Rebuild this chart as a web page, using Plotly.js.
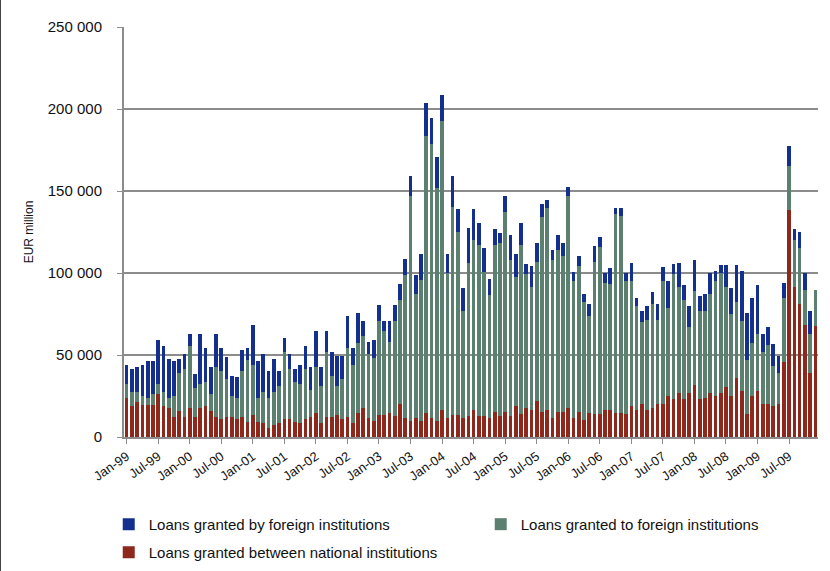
<!DOCTYPE html>
<html>
<head>
<meta charset="utf-8">
<script src="https://cdn.plot.ly/plotly-3.0.1.min.js"></script>
<style>
  html, body { margin: 0; padding: 0; background: #fff; }
  #chart { width: 830px; height: 571px; }
  #frame { position: absolute; left: 0; top: 0; width: 1px; height: 571px; background: #444; }
</style>
</head>
<body>
<div id="chart"></div>
<div id="frame"></div>
<script>
// Month categories Jan-99 .. Dec-09
const monthNames = ['Jan','Feb','Mar','Apr','May','Jun','Jul','Aug','Sep','Oct','Nov','Dec'];
const years = ['99','00','01','02','03','04','05','06','07','08','09'];
const categories = [];
years.forEach(y => monthNames.forEach(m => categories.push(m + '-' + y)));

// Tick labels every six months
const tickLabels = ['Jan-99','Jul-99','Jan-00','Jul-00','Jan-01','Jul-01','Jan-02','Jul-02',
  'Jan-03','Jul-03','Jan-04','Jul-04','Jan-05','Jul-05','Jan-06','Jul-06','Jan-07','Jul-07',
  'Jan-08','Jul-08','Jan-09','Jul-09'];

// EUR million
const loansNational = [
  23800,18700,21300,19700,19700,19700,26400,18700,17500,12400,16100,12400,
  17500,12400,17500,18700,16100,12400,11200,12400,12400,11200,12400,9400,
  13500,9400,8400,5700,7100,8400,11000,11000,9400,8400,11000,12200,
  14900,8400,12400,12400,13500,11000,12400,8400,14700,17600,11300,9700,
  13700,13700,14700,12700,20200,11300,9700,11300,9700,14700,11300,9700,
  16200,11300,13700,13700,11300,12700,16300,13000,13000,11700,15000,13000,
  15000,13000,19000,14000,17800,16400,21900,15000,16400,11700,15000,15000,
  17800,11700,15000,10300,14900,13800,13800,16400,16400,14800,14800,13800,
  18900,16400,19900,16400,17900,19900,19900,25000,22900,26600,22900,26600,
  31500,22900,24000,26700,25100,26700,30600,25100,35800,27900,14000,25100,
  27900,20000,20000,19000,20000,45700,138400,91300,81400,68400,39300,67600
];
const loansToForeign = [
  8700,8900,6300,5100,3900,6700,6100,8900,6100,12400,22900,29300,
  38200,17700,15000,15000,10300,30500,29000,23000,12600,12400,28000,37300,
  30600,14300,19100,18000,20400,23000,40600,30600,24300,24000,30600,16600,
  27900,23000,39200,25100,17700,24300,42100,35500,42500,44200,39400,38200,
  57200,51100,43300,58200,63200,87300,137000,75800,86300,168700,167500,142000,
  176300,88700,126700,111100,65700,93400,103900,103800,87400,74700,101800,105000,
  122200,95100,78800,102800,81400,74900,84600,119400,123100,96400,99200,95300,
  129300,83400,89000,72100,58800,92800,101900,77600,76600,121400,119800,81400,
  76300,63400,50100,54700,63300,51200,75300,53800,76200,64800,60900,40600,
  57400,54200,53100,60700,70000,73300,60700,50000,46600,43100,33000,32000,
  35200,32000,35900,24100,19300,39100,26800,28900,34000,21500,23800,22300
];
const loansByForeign = [
  11400,13900,15100,19100,22800,20200,26900,27700,24000,21800,8600,8700,
  7300,8500,30500,20600,16300,20100,14100,13600,12500,12800,12400,7600,
  24000,22800,23100,16500,20200,8800,9000,9000,7900,11500,13900,13800,
  21900,11200,13100,14100,18000,13900,19100,10400,18600,8700,7100,11300,
  9500,5700,12500,9500,10100,9900,12700,11500,15300,20200,15700,19000,
  16200,11300,19000,14200,13700,21600,19000,13500,15000,9700,9900,6300,
  9700,15000,13900,13500,6000,12700,11500,7700,5000,6100,8900,7700,
  5100,5300,6300,5000,7300,10100,6100,6100,9900,3300,4900,4900,
  11000,5100,7100,8700,7500,10100,8700,16400,6100,14800,8600,12600,
  19300,9000,9900,12600,6100,5000,13700,15800,22600,30200,28700,27700,
  29400,11100,11100,13800,10100,9100,12300,6500,9900,10100,14000,0
];

const traces = [
  {type: 'bar', name: 'Loans granted between national institutions', x: categories, y: loansNational,
   marker: {color: '#8E281D'}, legend: 'legend2'},
  {type: 'bar', name: 'Loans granted to foreign institutions', x: categories, y: loansToForeign,
   marker: {color: '#5B8070'}, legend: 'legend'},
  {type: 'bar', name: 'Loans granted by foreign institutions', x: categories, y: loansByForeign,
   marker: {color: '#13308E'}, legend: 'legend'}
];

const legendFont = {size: 15, color: '#111'};
const layout = {
  width: 830, height: 571,
  margin: {l: 124, r: 12, t: 27, b: 134, autoexpand: false},
  paper_bgcolor: '#ffffff', plot_bgcolor: '#ffffff',
  font: {family: 'Liberation Sans, Arial, sans-serif', color: '#111'},
  separators: '. ',
  barmode: 'stack', bargap: 0.3,
  showlegend: true,
  legend: {orientation: 'h', x: -0.022, xanchor: 'left', y: -0.173, yanchor: 'top',
           traceorder: 'reversed', entrywidth: 327, entrywidthmode: 'pixels',
           itemwidth: 30, font: legendFont, itemclick: false},
  legend2: {orientation: 'h', x: -0.022, xanchor: 'left', y: -0.2415, yanchor: 'top',
           itemwidth: 30, font: legendFont, itemclick: false},
  xaxis: {
    type: 'category', range: [-0.5, categories.length - 0.5],
    tickvals: tickLabels, ticktext: tickLabels, tickangle: -35,
    tickfont: {size: 13, color: '#111'},
    showline: true, linecolor: '#8c8c8c', linewidth: 2,
    ticks: 'outside', ticklen: 5, tickcolor: '#8c8c8c', tickwidth: 1,
    showgrid: false, zeroline: false, fixedrange: true
  },
  yaxis: {
    range: [0, 250000], tickvals: [0, 50000, 100000, 150000, 200000, 250000],
    tickformat: ',d', tickfont: {size: 15, color: '#111'},
    showline: true, linecolor: '#8c8c8c', linewidth: 2,
    ticks: 'outside', ticklen: 5, tickcolor: '#8c8c8c', ticklabelstandoff: 12,
    showgrid: true, gridcolor: '#8c8c8c', gridwidth: 2, zeroline: false,
    title: {text: 'EUR million', font: {size: 12, color: '#111'}, standoff: 12},
    fixedrange: true
  }
};

Plotly.newPlot('chart', traces, layout, {displayModeBar: false, staticPlot: true});
</script>
</body>
</html>
